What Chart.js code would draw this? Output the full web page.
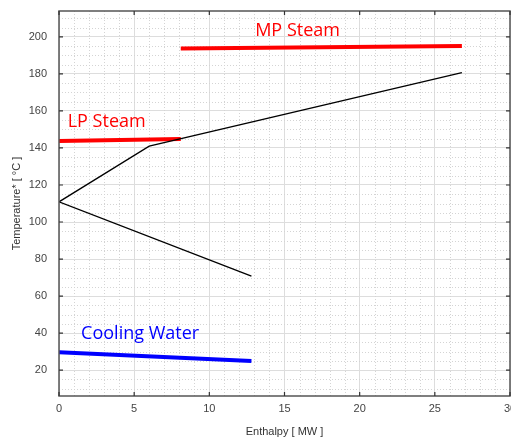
<!DOCTYPE html>
<html>
<head>
<meta charset="utf-8">
<script src="https://cdn.jsdelivr.net/npm/chart.js@4"></script>
<style>
  html, body { margin: 0; padding: 0; background: #fff; overflow: hidden; }
  #wrap { width: 511px; height: 438px; }
</style>
</head>
<body>
<div id="wrap"><canvas id="chart" width="511" height="438"></canvas></div>
<script>
// composite curve (black)
const compositeX = [26.8, 6.0, 0.0, 12.8];
const compositeY = [180.7, 141.0, 110.9, 70.8];

// utility lines
const mpSteamX = [8.1, 26.8];
const mpSteamY = [193.8, 195.1];
const lpSteamX = [0, 8.1];
const lpSteamY = [143.7, 144.8];
const coolingX = [0, 12.8];
const coolingY = [29.7, 24.9];

// text labels and where they sit (data units)
const labelTexts = ['MP Steam', 'LP Steam', 'Cooling Water'];
const labelX = [13.05, 0.58, 1.47];
const labelY = [200.5, 151.2, 36.6];
const labelColors = ['#ff0000', '#ff0000', '#0000ff'];

const xTicks = [0, 5, 10, 15, 20, 25, 30];
const yTicks = [20, 40, 60, 80, 100, 120, 140, 160, 180, 200];

const toPoints = (xs, ys) => xs.map((v, i) => ({ x: v, y: ys[i] }));

const frame = {
    id: 'frame',
    beforeDatasetsDraw(chart) {
        const { ctx, chartArea: a, scales: { x, y } } = chart;
        ctx.save();
        ctx.beginPath();
        ctx.rect(a.left, a.top, a.width, a.height);
        ctx.clip();
        ctx.setLineDash([1, 2]);
        ctx.strokeStyle = '#d4d4d4';
        ctx.lineWidth = 1;
        // minor grid: every 1 MW, every 5 degC
        for (let v = 1; v < 30; v++) {
            if (v % 5 === 0) continue;
            const px = Math.round(x.getPixelForValue(v)) + 0.5;
            ctx.beginPath();
            ctx.moveTo(px, a.top);
            ctx.lineTo(px, a.bottom);
            ctx.stroke();
        }
        for (let v = 10; v < 214; v += 5) {
            if (v % 20 === 0) continue;
            const py = Math.round(y.getPixelForValue(v)) + 0.5;
            ctx.beginPath();
            ctx.moveTo(a.left, py);
            ctx.lineTo(a.right, py);
            ctx.stroke();
        }
        ctx.restore();
    },
    afterDatasetsDraw(chart) {
        const { ctx, scales: { x, y } } = chart;
        ctx.save();
        ctx.font = '18px "Open Sans"';
        ctx.textBaseline = 'alphabetic';
        ctx.textAlign = 'left';
        labelTexts.forEach((t, i) => {
            ctx.fillStyle = labelColors[i];
            ctx.fillText(t, x.getPixelForValue(labelX[i]), y.getPixelForValue(labelY[i]));
        });
        ctx.restore();
    },
    afterDraw(chart) {
        const { ctx, chartArea: a, scales: { x, y } } = chart;
        ctx.save();
        ctx.strokeStyle = '#555555';
        ctx.lineWidth = 1.5;
        ctx.strokeRect(a.left, a.top, a.width, a.height);
        ctx.lineWidth = 1.2;
        ctx.strokeStyle = '#333333';
        xTicks.forEach(v => {
            const px = x.getPixelForValue(v);
            ctx.beginPath();
            ctx.moveTo(px, a.bottom); ctx.lineTo(px, a.bottom - 4);
            ctx.moveTo(px, a.top); ctx.lineTo(px, a.top + 4);
            ctx.stroke();
        });
        yTicks.forEach(v => {
            const py = y.getPixelForValue(v);
            ctx.beginPath();
            ctx.moveTo(a.left, py); ctx.lineTo(a.left + 4, py);
            ctx.moveTo(a.right, py); ctx.lineTo(a.right - 4, py);
            ctx.stroke();
        });
        ctx.restore();
    }
};

const ctx = document.getElementById('chart').getContext('2d');

const chart = new Chart(ctx, {
    type: 'scatter',
    data: {
        datasets: [{
            label: 'Composite',
            data: toPoints(compositeX, compositeY),
            showLine: true,
            borderColor: '#000000',
            borderWidth: 1.3,
            pointRadius: 0
        }, {
            label: 'MP Steam',
            data: toPoints(mpSteamX, mpSteamY),
            showLine: true,
            borderColor: '#ff0000',
            borderWidth: 4,
            pointRadius: 0
        }, {
            label: 'LP Steam',
            data: toPoints(lpSteamX, lpSteamY),
            showLine: true,
            borderColor: '#ff0000',
            borderWidth: 4,
            pointRadius: 0
        }, {
            label: 'Cooling Water',
            data: toPoints(coolingX, coolingY),
            showLine: true,
            borderColor: '#0000ff',
            borderWidth: 4,
            pointRadius: 0
        }]
    },
    options: {
        responsive: false,
        animation: false,
        layout: {
            autoPadding: false,
            padding: { top: 11, right: 1, bottom: 0, left: 0 }
        },
        plugins: {
            legend: { display: false },
            tooltip: { enabled: false }
        },
        scales: {
            x: {
                type: 'linear',
                min: 0,
                max: 30,
                afterBuildTicks: s => { s.ticks = xTicks.map(v => ({ value: v })); },
                afterFit: s => { s.height = 42; s.paddingLeft = 0; s.paddingRight = 0; },
                grid: { color: '#dddddd', drawTicks: false },
                border: { display: false },
                ticks: {
                    padding: 6,
                    color: '#444444',
                    font: { family: 'Liberation Sans', size: 11 },
                    maxRotation: 0
                },
                title: {
                    display: true,
                    text: 'Enthalpy [ MW ]',
                    color: '#333333',
                    font: { family: 'Liberation Sans', size: 11 },
                    padding: { top: 0, bottom: -1 }
                }
            },
            y: {
                type: 'linear',
                min: 6,
                max: 214,
                afterBuildTicks: s => { s.ticks = yTicks.map(v => ({ value: v })); },
                afterFit: s => { s.width = 59; s.paddingTop = 0; s.paddingBottom = 0; },
                grid: { color: '#dddddd', drawTicks: false },
                border: { display: false },
                ticks: {
                    padding: 12,
                    color: '#444444',
                    font: { family: 'Liberation Sans', size: 11 }
                },
                title: {
                    display: true,
                    text: 'Temperature* [ °C ]',
                    color: '#333333',
                    font: { family: 'Liberation Sans', size: 11 },
                    padding: { top: 10, bottom: 0 }
                }
            }
        }
    },
    plugins: [frame]
});
</script>
</body>
</html>
